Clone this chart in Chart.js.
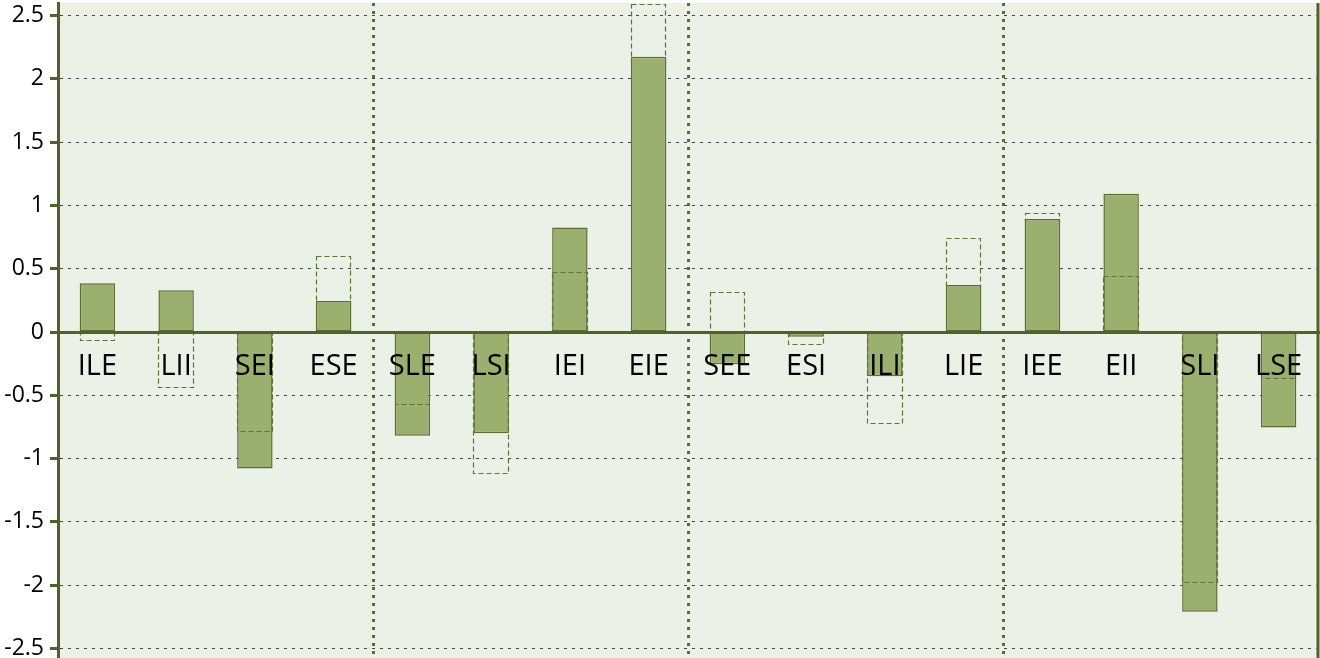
<!DOCTYPE html>
<html>
<head>
<meta charset="utf-8">
<script src="https://cdn.jsdelivr.net/npm/chart.js@4/dist/chart.umd.min.js"></script>
<style>
  html, body { margin: 0; padding: 0; background: #ffffff; overflow: hidden; }
  #wrap { width: 1320px; height: 658px; position: relative; }
</style>
</head>
<body>
<div id="wrap"><canvas id="c"></canvas></div>
<script>
const categories = ['ILE','LII','SEI','ESE','SLE','LSI','IEI','EIE','SEE','ESI','ILI','LIE','IEE','EII','SLI','LSE'];
const filledValues = [0.385, 0.33, -1.077, 0.245, -0.82, -0.80, 0.827, 2.175, -0.255, -0.037, -0.348, 0.371, 0.893, 1.092, -2.21, -0.753];
const dashedValues = [-0.063, -0.437, -0.78, 0.60, -0.57, -1.11, 0.474, 2.59, 0.318, -0.092, -0.716, 0.745, 0.94, 0.44, -1.975, -0.366];
const yTicks = [-2.5, -2, -1.5, -1, -0.5, 0, 0.5, 1, 1.5, 2, 2.5];
const yTickLabels = ['-2.5', '-2', '-1.5', '-1', '-0.5', '0', '0.5', '1', '1.5', '2', '2.5'];
const groupBoundaries = [4, 8, 12];

const PLOT_BG = '#EBF1E6';
const OLIVE_DARK = '#4F6228';
const BAR_FILL = '#9BAF6E';
const BAR_BORDER = '#5A6E2E';
const DASH_COLOR = '#5F7434';

const bgPlugin = {
  id: 'plotBg',
  beforeDraw(chart) {
    const {ctx, chartArea: a} = chart;
    ctx.save();
    ctx.fillStyle = PLOT_BG;
    ctx.fillRect(a.left, a.top, a.right - a.left, a.bottom - a.top);
    ctx.restore();
  },
  afterDraw(chart) {
    const {ctx, chartArea: a} = chart;
    ctx.save();
    ctx.strokeStyle = OLIVE_DARK;
    ctx.lineWidth = 3;
    ctx.beginPath();
    ctx.moveTo(a.right, a.top);
    ctx.lineTo(a.right, a.bottom);
    ctx.stroke();
    ctx.restore();
  }
};

const dashedPlugin = {
  id: 'dashedBars',
  afterDatasetsDraw(chart) {
    const meta = chart.getDatasetMeta(1);
    const ctx = chart.ctx;
    ctx.save();
    ctx.strokeStyle = DASH_COLOR;
    ctx.lineWidth = 1.2;
    ctx.setLineDash([5, 3]);
    meta.data.forEach(el => {
      const p = el.getProps(['x', 'y', 'base', 'width'], true);
      const left = Math.round(p.x - p.width / 2) + 0.5;
      const right = Math.round(p.x + p.width / 2) - 0.5;
      const top = Math.round(Math.min(p.y, p.base)) + 0.5;
      const bottom = Math.round(Math.max(p.y, p.base)) + 0.5;
      ctx.strokeRect(left, top, right - left, bottom - top);
    });
    ctx.restore();
  }
};

const labelPlugin = {
  id: 'catLabels',
  afterDraw(chart) {
    const xs = chart.scales.x, ys = chart.scales.y;
    const ctx = chart.ctx;
    const zeroY = ys.getPixelForValue(0);
    ctx.save();
    ctx.fillStyle = '#000000';
    ctx.font = '29px "Open Sans"';
    ctx.textAlign = 'center';
    ctx.textBaseline = 'alphabetic';
    categories.forEach((c, i) => {
      ctx.fillText(c, xs.getPixelForValue(i), zeroY + 43);
    });
    ctx.restore();
  }
};

new Chart(document.getElementById('c'), {
  type: 'bar',
  data: {
    labels: categories,
    datasets: [
      {
        data: filledValues,
        backgroundColor: BAR_FILL,
        borderColor: BAR_BORDER,
        borderWidth: 1.5,
        borderSkipped: false,
        grouped: false,
        categoryPercentage: 1,
        barPercentage: 0.45,
        order: 2
      },
      {
        data: dashedValues,
        backgroundColor: 'rgba(0,0,0,0)',
        borderWidth: 0,
        grouped: false,
        categoryPercentage: 1,
        barPercentage: 0.45,
        order: 1
      }
    ]
  },
  plugins: [bgPlugin, dashedPlugin, labelPlugin],
  options: {
    responsive: true,
    maintainAspectRatio: false,
    animation: false,
    events: [],
    layout: { padding: { top: 3, right: 2, bottom: 0, left: 0 } },
    plugins: { legend: { display: false }, tooltip: { enabled: false } },
    scales: {
      x: {
        position: { y: 0 },
        ticks: { display: false },
        afterFit: (scale) => { scale.height = 0; scale.paddingLeft = 0; scale.paddingRight = 0; },
        grid: {
          offset: true,
          drawTicks: false,
          lineWidth: 3,
          color: (ctx) => groupBoundaries.includes(ctx.index) ? BAR_BORDER : 'rgba(0,0,0,0)'
        },
        border: { display: true, color: OLIVE_DARK, width: 3, dash: [3, 5], z: 1 }
      },
      y: {
        min: -2.575,
        max: 2.6,
        afterBuildTicks: (scale) => { scale.ticks = yTicks.map(v => ({ value: v })); },
        afterFit: (scale) => { scale.width = 58; scale.paddingTop = 0; scale.paddingBottom = 0; },
        ticks: {
          padding: 6,
          color: '#000000',
          font: { family: '"Open Sans"', size: 23 },
          callback: (v) => yTickLabels[yTicks.indexOf(v)]
        },
        grid: {
          color: '#444444',
          lineWidth: 1,
          tickLength: 8,
          tickColor: OLIVE_DARK,
          tickWidth: 3,
          tickBorderDash: [1, 0]
        },
        border: { display: true, color: OLIVE_DARK, width: 3, dash: [3, 5] }
      }
    }
  }
});
</script>
</body>
</html>
